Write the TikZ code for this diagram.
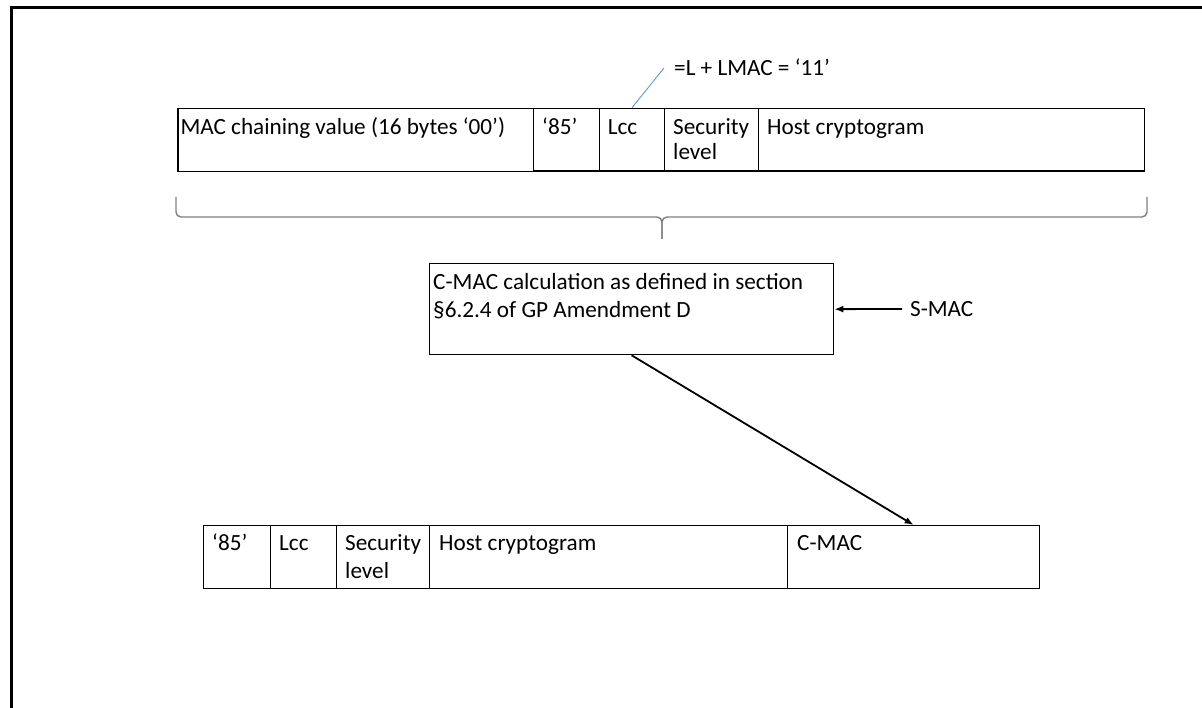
\documentclass[tikz,border=0pt]{standalone}
\usepackage{fontspec}
\setmainfont{Carlito}
\usetikzlibrary{arrows.meta,calc}
\definecolor{leaderblue}{RGB}{91,155,213}
\begin{document}
\begin{tikzpicture}[x=1pt,y=-1pt,
  cell/.style={draw=black,line width=1.3pt,inner sep=0pt,anchor=north west},
  txt/.style={font=\fontsize{23.2}{26}\selectfont,inner sep=0pt,anchor=base west,align=left},
  arr/.style={line width=1.8pt,-{Latex[length=9pt,width=7pt]}},
  bracestyle/.style={draw=black!50,line width=1.4pt,rounded corners=5pt},
  leader/.style={draw=leaderblue,line width=0.9pt}]
\useasboundingbox (0,0) rectangle (1202,708);
% frame
\draw[line width=2.2pt] (11.5,708) -- (11.5,7.5) -- (1202,7.5);
% top row
\node[cell,minimum width=355.7pt,minimum height=63pt] (mcv) at (177.3,107.7) {};
\node[cell,minimum width=65.7pt,minimum height=62.8pt] (t85) at (533,107.7) {};
\node[cell,minimum width=65.3pt,minimum height=62.8pt] (lcc) at (598.7,107.7) {};
\node[cell,minimum width=94pt,minimum height=62.8pt] (sec) at (664,107.7) {};
\node[cell,minimum width=386pt,minimum height=62.8pt] (host) at (758,107.7) {};
\node[txt] (mcvt) at ($(mcv.north west)+(3,26.5)$) {MAC chaining value (16 bytes ‘00’)};
\node[txt] (t85t) at ($(t85.north west)+(9,26.5)$) {‘85’};
\node[txt] (lcct) at ($(lcc.north west)+(9,26.5)$) {Lcc};
\node[txt,font=\fontsize{23.2}{25.5}\selectfont] (sect) at ($(sec.north west)+(9,52)$) {Security\\level};
\node[txt] (hostt) at ($(host.north west)+(9,26.5)$) {Host cryptogram};
% leader label
\node[txt,anchor=west] (lbl) at (674,67) {=L + LMAC = ‘11’};
\coordinate (ldr) at (664,68);
\draw[leader] (lcc.north) -- (ldr);
% brace
\coordinate (bl) at (176,197);
\coordinate (br) at (1147,197);
\coordinate (bm) at (662,217);
\coordinate (btip) at (662,239);
\draw[bracestyle] (bl) -- (bl |- bm) -- (bm) -- (btip);
\draw[bracestyle] (br) -- (br |- bm) -- (bm) -- (btip);
% middle box
\node[cell,minimum width=404pt,minimum height=91pt] (calc) at (429,263) {};
\node[txt,font=\fontsize{23.2}{28}\selectfont] (calct) at ($(calc.north west)+(4,55)$) {C-MAC calculation as defined in section\\§6.2.4 of GP Amendment D};
\node[txt,anchor=west,inner xsep=8pt] (smac) at (902,309) {S-MAC};
\draw[arr] (smac.west) -- (calc.east);
% bottom row
\node[cell,minimum width=67pt,minimum height=63pt] (b85) at (203,525) {};
\node[cell,minimum width=66pt,minimum height=63pt] (blcc) at (270,525) {};
\node[cell,minimum width=93pt,minimum height=63pt] (bsec) at (336,525) {};
\node[cell,minimum width=358pt,minimum height=63pt] (bhost) at (429,525) {};
\node[cell,minimum width=252pt,minimum height=63pt] (cmac) at (787,525) {};
\node[txt] (b85t) at ($(b85.north west)+(9,25)$) {‘85’};
\node[txt] (blcct) at ($(blcc.north west)+(9,25)$) {Lcc};
\node[txt,font=\fontsize{23.2}{28}\selectfont] (bsect) at ($(bsec.north west)+(9,53)$) {Security\\level};
\node[txt] (bhostt) at ($(bhost.north west)+(10,25)$) {Host cryptogram};
\node[txt] (cmact) at ($(cmac.north west)+(10,25)$) {C-MAC};
\draw[arr] (calc.south) -- (cmac.north);
\end{tikzpicture}
\end{document}
